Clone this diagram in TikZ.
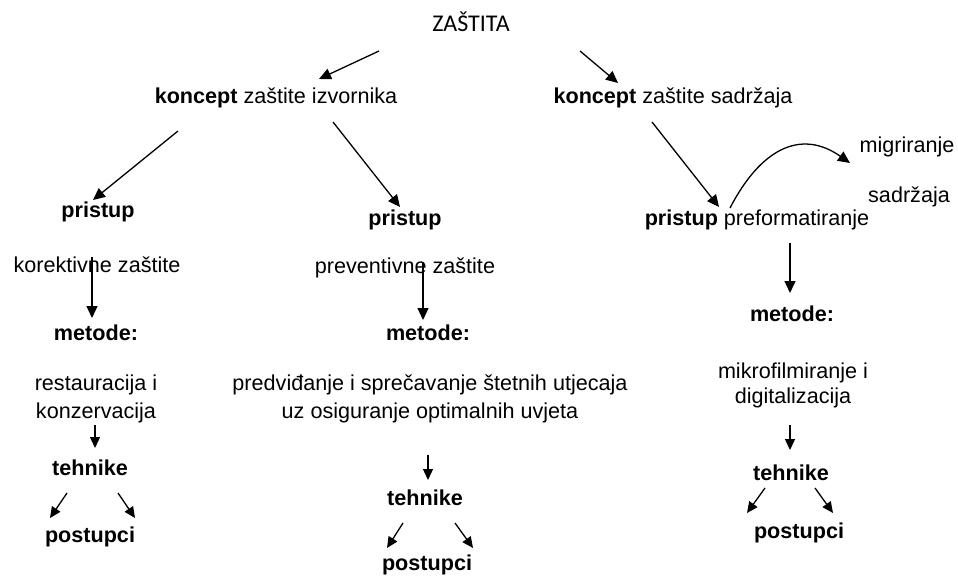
\documentclass[tikz,border=0pt]{standalone}
\usepackage{fontspec}
\setmainfont{Liberation Sans}
\newfontfamily\calibfont{Carlito}
\usetikzlibrary{arrows.meta,calc}

\tikzset{
  lbl/.style={inner sep=0pt, font=\fontsize{10.8}{14}\selectfont},
  lblb/.style={lbl, font=\fontsize{10.8}{14}\selectfont\bfseries},
  arr/.style={line width=0.65pt, -{Triangle[length=6pt,width=5.5pt]}},
  arrs/.style={line width=0.65pt, -{Triangle[length=5.5pt,width=5pt]}}
}

\begin{document}
\begin{tikzpicture}[x=0.5pt,y=-0.5pt]
\useasboundingbox (0,0) rectangle (958,579);

% Top
\node[inner sep=0pt, font=\calibfont\fontsize{12}{14}\selectfont] (zastita) at (471,22) {ZAŠTITA};
\node[lbl] (kzi) at (276,98) {\textbf{koncept} zaštite izvornika};
\node[lbl] (kzs) at (673,98) {\textbf{koncept} zaštite sadržaja};

% Left branch
\node[lblb] (pl) at (98,212) {pristup};
\node[lbl] (kz) at (97,265) {korektivne zaštite};
\node[lblb] (ml) at (96,333) {metode:};
\node[lbl, align=center] (rk) at (96,399) {restauracija i\\konzervacija};
\node[lblb] (tl) at (90,468) {tehnike};
\node[lblb] (postl) at (90,537) {postupci};

% Middle branch
\node[lblb] (pm) at (405,220) {pristup};
\node[lbl] (pz) at (405,268) {preventivne zaštite};
\node[lblb] (mm) at (428,333) {metode:};
\node[lbl, align=center] (pu) at (430,399) {predviđanje i sprečavanje štetnih utjecaja\\uz osiguranje optimalnih uvjeta};
\node[lblb] (tm) at (425,498) {tehnike};
\node[lblb] (postm) at (427,565) {postupci};

% Right branch
\node[lbl] (pr) at (757,220) {\textbf{pristup} preformatiranje};
\node[lbl] (migr) at (907,147) {migriranje};
\node[lbl] (sadr) at (909,197) {sadržaja};
\node[lblb] (mr) at (792,314) {metode:};
\node[lbl, align=center, font=\fontsize{10.8}{12.5}\selectfont] (md) at (793,385) {mikrofilmiranje i\\digitalizacija};
\node[lblb] (tr) at (791,473) {tehnike};
\node[lblb] (postr) at (799,533) {postupci};

% Free ends of the tehnike arrows
\coordinate (tlA) at ($(tl)+(-40,50)$);
\coordinate (tlB) at ($(tl)+(45,50)$);
\coordinate (tmA) at ($(tm)+(-38,50)$);
\coordinate (tmB) at ($(tm)+(48,50)$);
\coordinate (trA) at ($(tr)+(-44,40)$);
\coordinate (trB) at ($(tr)+(42,40)$);

% Connectors
\draw[arr] ($(zastita)+(-92,29)$) -- ($(kzi)+(43,-19)$);
\draw[arr] ($(zastita)+(109,29)$) -- ($(kzs)+(-55,-15)$);
\draw[arr] ($(kzi)+(-98,33)$) -- ($(pl)+(-5,-12)$);
\draw[arr] ($(kzi)+(57,24)$) -- ($(pm)+(-5,-13)$);
\draw[arr] ($(kzs)+(-21,24)$) -- ($(pr)+(-38,-13)$);
\draw[arr] ($(pr)+(-27,-12)$) .. controls (760,150) and (800,128) .. ($(migr)+(-57,16)$);

\draw[arr] ($(kz)+(-5,-8)$) -- ($(ml)+(-4,-15)$);
\draw[arr] ($(pz)+(18,-6)$) -- ($(mm)+(-5,-13)$);
\draw[arr] ($(pr)+(33,23)$) -- ($(mr)+(-2,-21)$);

\draw[arrs] ($(rk)+(-1,26)$) -- ($(tl)+(5,-20)$);
\draw[arrs] ($(pu)+(-2,56)$) -- ($(tm)+(3,-18)$);
\draw[arrs] ($(md)+(-3,40)$) -- ($(tr)+(-1,-23)$);

\draw[arrs] ($(tl)+(-23,25)$) -- (tlA);
\draw[arrs] ($(tl)+(28,25)$) -- (tlB);
\draw[arrs] ($(tm)+(-22,25)$) -- (tmA);
\draw[arrs] ($(tm)+(30,25)$) -- (tmB);
\draw[arrs] ($(tr)+(-26,15)$) -- (trA);
\draw[arrs] ($(tr)+(24,15)$) -- (trB);
\end{tikzpicture}
\end{document}
